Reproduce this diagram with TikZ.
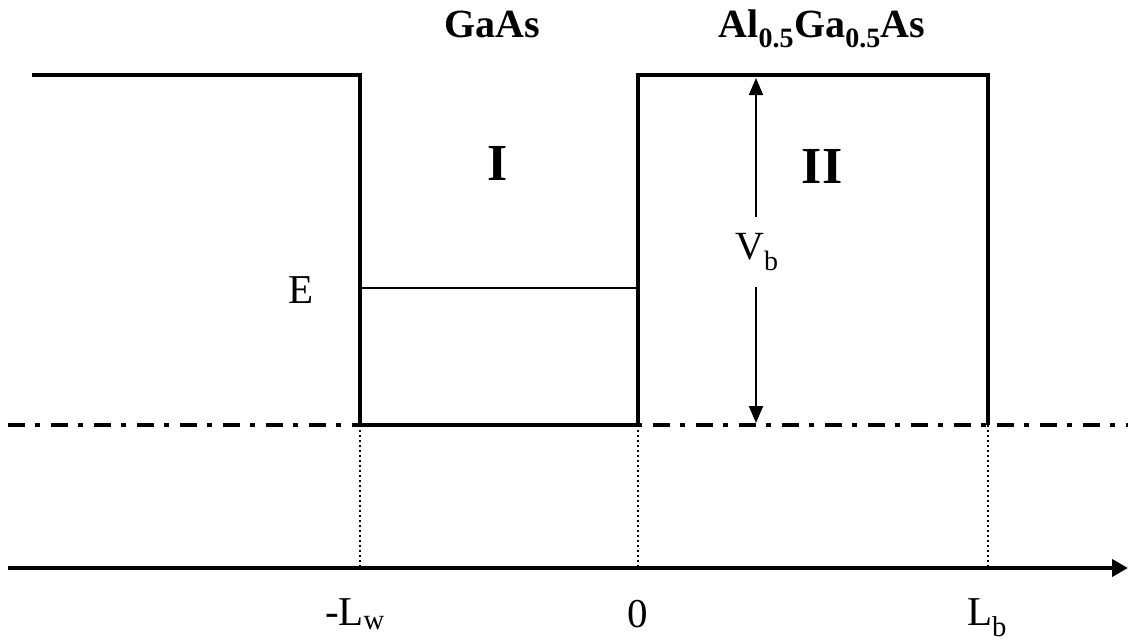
\documentclass[tikz,border=0pt]{standalone}
\usepackage{fontspec}
\setmainfont{Liberation Serif}
\usetikzlibrary{arrows.meta}
\begin{document}
\begin{tikzpicture}[x=1pt,y=-1pt,
  wall/.style={line width=4pt},
  level/.style={line width=2pt},
  guide/.style={line width=2pt, dash pattern=on 2pt off 3pt},
  refline/.style={line width=3.5pt, dash pattern=on 17pt off 10pt on 5pt off 11pt},
  lbl/.style={font=\fontsize{41}{48}\selectfont, inner sep=0pt, anchor=base},
  blbl/.style={font=\fontsize{40}{48}\selectfont\bfseries, inner sep=0pt, anchor=base},
  rlbl/.style={font=\fontsize{52}{60}\selectfont\bfseries, inner sep=0pt, anchor=base},
]
\useasboundingbox (0,0) rectangle (1133,643);
% coordinates
\coordinate (tl) at (32,75);
\coordinate (wl) at (360,75);
\coordinate (wlb) at (360,425);
\coordinate (wrb) at (638,425);
\coordinate (wr) at (638,75);
\coordinate (br) at (988,75);
\coordinate (brb) at (988,425);
\coordinate (rl) at (8,425);
\coordinate (rr) at (1128,425);
\coordinate (al) at (8,568);
\coordinate (ar) at (1128,568);
\coordinate (axw) at (360,568);
\coordinate (ax0) at (638,568);
\coordinate (axb) at (988,568);
\coordinate (el) at (360,288);
\coordinate (er) at (638,288);
\coordinate (vt) at (756,78);
\coordinate (vb) at (756,423);
% reference (dash-dot) line
\draw[refline] (rl) -- (rr);
% dotted guides
\draw[guide] (wlb) -- (axw);
\draw[guide] (wrb) -- (ax0);
\draw[guide] (brb) -- (axb);
% potential profile
\draw[wall, line join=miter] (tl) -- (wl) -- (wlb) -- (wrb) -- (wr) -- (br) -- (brb);
% energy level
\draw[level] (el) -- (er);
% barrier height arrow
\draw[line width=2pt, {Triangle[width=14pt,length=17pt]}-{Triangle[width=14pt,length=17pt]}] (vt) -- (vb);
\node[font=\fontsize{40}{48}\selectfont, fill=white, inner xsep=2pt, inner ysep=0pt, minimum height=70pt] (vblbl) at (757,252) {V\textsubscript{b}};
% axis
\draw[line width=4pt, -{Triangle[width=17pt,length=16pt]}] (al) -- (ar);
% labels
\node[blbl] (gaas) at (492,37) {GaAs};
\node[blbl] (algaas) at (822,37) {Al\textsubscript{0.5}Ga\textsubscript{0.5}As};
\node[rlbl] (regI) at (498,180) {I};
\node[rlbl] (regII) at (822,183) {II};
\node[lbl] (elbl) at (301,303) {E};
\node[lbl] (lw) at (355,625) {-L\textsubscript{w}};
\node[lbl] (zero) at (638,627) {0};
\node[lbl] (lb) at (987,625) {L\textsubscript{b}};
\end{tikzpicture}
\end{document}
